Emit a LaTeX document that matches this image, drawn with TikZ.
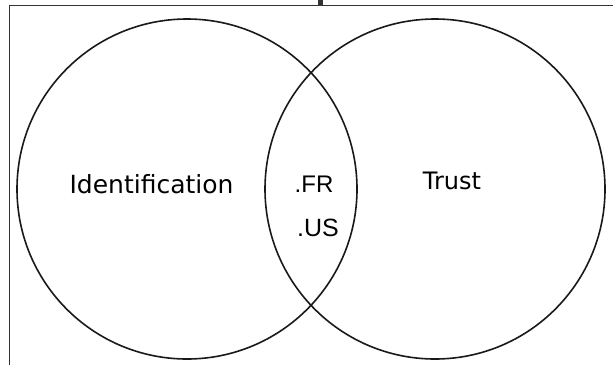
\documentclass[tikz,border=0pt]{standalone}
\usepackage{fontspec}
\setmainfont{DejaVu Sans}
\newfontfamily\arialfont{Liberation Sans}
\begin{document}
\begin{tikzpicture}[x=1pt,y=-1pt]
			\tikzstyle{every node}+=[inner sep=0pt]
			\tikzstyle{set}=[draw=black!90,line width=1.6pt,circle,minimum size=340pt]
			\useasboundingbox (0,0) rectangle (613,365);
			\draw [black!80,line width=0.9pt] (9.3,365) -- (9.3,5.5) -- (613,5.5);
			\fill [black!80] (318,0) rectangle (323,5.5);
			\node [set] (ident) at (187,189) {};
			\node [set] (trust) at (435,189) {};
			\node [anchor=base,font=\fontsize{25}{28}\selectfont] (identlbl) at (151.5,193) {Identification};
			\node [anchor=base,font=\fontsize{24}{28}\selectfont] (trustlbl) at (452,189) {Trust};
			\node [anchor=base,font=\arialfont\fontsize{24}{28}\selectfont] (fr) at (314,192) {.FR};
			\node [anchor=base,font=\arialfont\fontsize{25}{28}\selectfont] (us) at (318,236) {.US};
		\end{tikzpicture}
\end{document}
